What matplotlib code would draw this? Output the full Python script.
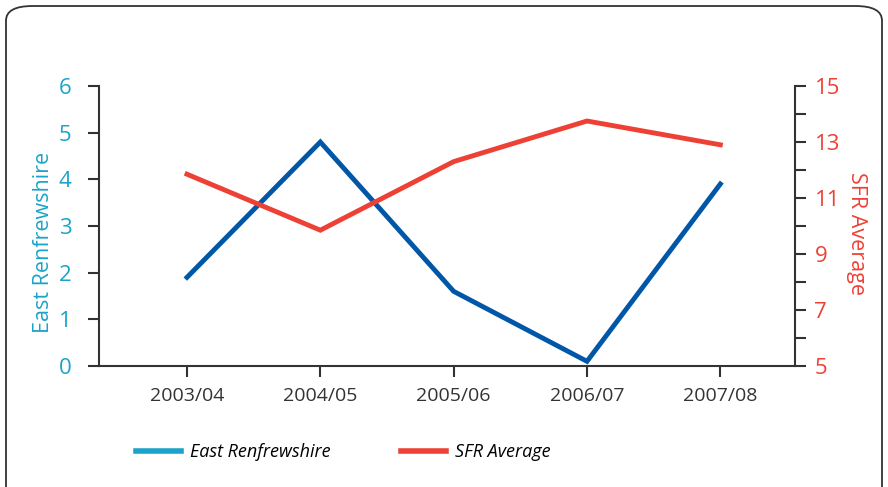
import matplotlib.pyplot as plt
from matplotlib.lines import Line2D
from matplotlib.patches import FancyBboxPatch
from matplotlib.ticker import FixedLocator, MultipleLocator

years = ["2003/04", "2004/05", "2005/06", "2006/07", "2007/08"]
east_renfrewshire = [1.9, 4.8, 1.6, 0.1, 3.9]
sfr_average = [11.85, 9.85, 12.3, 13.75, 12.9]

blue = "#0057a8"
cyan = "#1ba3c9"
red = "#ee4136"
dark = "#333333"
font = ["Liberation Sans Narrow", "Open Sans", "DejaVu Sans"]
plt.rcParams['font.family'] = font

fig = plt.figure(figsize=(8.88, 4.87), dpi=100)
ax = fig.add_axes([99 / 888, 1 - 366 / 487, 696 / 888, 280 / 487])
ax2 = ax.twinx()

x = list(range(len(years)))
ax.plot(x, east_renfrewshire, color=blue, lw=3.5, solid_joinstyle="miter", zorder=3)
ax2.plot(x, sfr_average, color=red, lw=3.5, solid_joinstyle="miter", zorder=3)

ax.set_xlim(-0.66, 4.56)
ax.set_ylim(0, 6)
ax2.set_ylim(5, 15)
ax.set_xticks(x)
ax.set_xticklabels(years, fontsize=14, color=dark)
ax.yaxis.set_major_locator(MultipleLocator(1))
ax2.yaxis.set_major_locator(FixedLocator(list(range(5, 16, 2))))
ax2.yaxis.set_minor_locator(FixedLocator(list(range(6, 15, 2))))

for a in (ax, ax2):
    a.spines["top"].set_visible(False)
    for s in a.spines.values():
        s.set_color(dark)
        s.set_linewidth(1.5)
ax.spines["right"].set_visible(False)
ax2.spines["left"].set_visible(False)
ax2.spines["bottom"].set_visible(False)

ax.tick_params(axis="x", length=8, width=1.5, color=dark, pad=7)
ax.tick_params(axis="y", length=8, width=1.5, color=dark, labelsize=16, labelcolor=cyan, pad=12)
ax2.tick_params(axis="y", which="both", length=8, width=1.5, color=dark, labelsize=16, labelcolor=red, pad=6)

ax.set_ylabel("East Renfrewshire", fontsize=15.5, color=cyan, va="center")
ax.yaxis.set_label_coords(-0.080, 0.443)
ax2.set_ylabel("SFR Average", fontsize=15.5, color=red, rotation=270, va="center")
ax2.yaxis.set_label_coords(1.088, 0.475)

handles = [Line2D([], [], color=cyan, lw=4), Line2D([], [], color=red, lw=4)]
fig.legend(handles, ["East Renfrewshire", "SFR Average"], loc="center left",
           bbox_to_anchor=(136 / 888, 1 - 452 / 487), ncol=2, frameon=False,
           borderpad=0, borderaxespad=0,
           handlelength=2.5, handletextpad=0.5, columnspacing=3.9,
           prop={"family": font, "style": "italic", "size": 13})

border = FancyBboxPatch((6 / 888, -0.05), 876 / 888, 1 - 6 / 487 + 0.05,
                        boxstyle="round,pad=0,rounding_size=0.03",
                        transform=fig.transFigure, fill=False, ec=dark, lw=1.3)
fig.patches.append(border)

fig.savefig("out.png", dpi=100)
